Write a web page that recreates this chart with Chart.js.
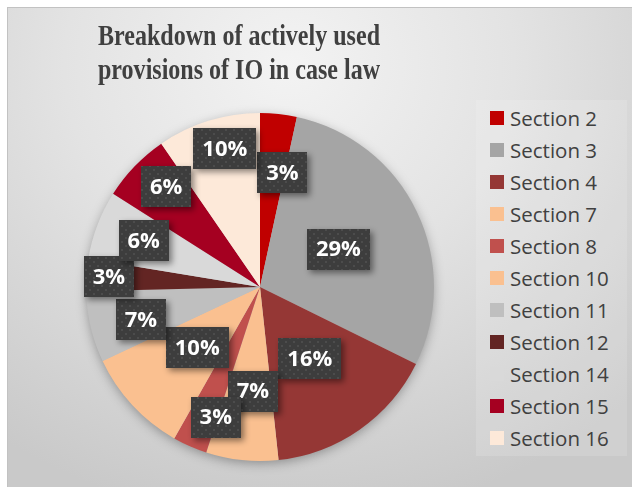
<!DOCTYPE html>
<html>
<head>
<meta charset="utf-8">
<script src="https://cdn.jsdelivr.net/npm/chart.js@4.4.1/dist/chart.umd.min.js"></script>
<style>
html, body { margin: 0; padding: 0; width: 632px; height: 487px; overflow: hidden; background: #fff; }
#frame {
    position: absolute; left: 7px; top: 7px; width: 625px; height: 480px;
    border-left: 1px solid #c2c2c2; border-top: 1px solid #c2c2c2;
    background: radial-gradient(ellipse 80% 95% at 45% 12%, #f3f3f3 0%, #e3e3e3 45%, #c9c9c9 100%);
}
#legendBox { position: absolute; left: 476px; top: 100px; width: 151px; height: 356px; background: rgba(255,255,255,0.14); }
#legend { position: absolute; left: 490px; top: 102px; font-family: 'Open Sans', sans-serif; font-size: 20.5px; color: #404040; }
.item { height: 32px; display: flex; align-items: center; white-space: nowrap; }
.sw { width: 14px; height: 14px; margin-right: 6px; flex: none; }
canvas { position: absolute; left: 0; top: 0; }
</style>
</head>
<body>
<div id="frame"></div>
<div id="legendBox"></div>
<div id="legend"></div>
<canvas id="pie-chart" width="632" height="487"></canvas>
<script>
const titleLines = ['Breakdown of actively used', 'provisions of IO in case law'];
const sections = ['Section 2', 'Section 3', 'Section 4', 'Section 7', 'Section 8', 'Section 10',
    'Section 11', 'Section 12', 'Section 14', 'Section 15', 'Section 16'];
const shares = [3.4, 28.9, 16.0, 6.7, 3.2, 9.8, 6.6, 3.0, 6.4, 6.4, 9.6];
const sliceColors = ['#c00000', '#a5a5a5', '#953735', '#fac090', '#c0504d', '#fac090',
    '#bfbfbf', '#632523', '#d9d9d9', '#a50021', '#fde9d9'];

// where each label box sits along its slice (fraction of radius, angle nudge in degrees)
const labelRadius = [0.67, 0.5, 0.5, 0.6, 0.79, 0.5, 0.71, 0.87, 0.72, 0.79, 0.82];
const labelNudge = [5, 0, 0, -2, -5, -1, -2, 0, 1, 3, 3];

function dotPattern(ctx) {
    const c = document.createElement('canvas');
    c.width = 8; c.height = 8;
    const p = c.getContext('2d');
    p.fillStyle = '#3d3d3d';
    p.fillRect(0, 0, 8, 8);
    p.fillStyle = '#4c4c4c';
    p.fillRect(1, 1, 2, 2);
    p.fillRect(5, 5, 2, 2);
    return ctx.createPattern(c, 'repeat');
}

const titlePlugin = {
    id: 'titleText',
    afterDraw(chart) {
        const ctx = chart.ctx;
        ctx.save();
        ctx.fillStyle = '#404040';
        ctx.font = 'bold 29px "Liberation Serif", "Times New Roman", serif';
        ctx.textAlign = 'center';
        ctx.textBaseline = 'alphabetic';
        const baselines = [45, 78.5];
        titleLines.forEach((line, i) => {
            const w = ctx.measureText(line).width;
            const sx = Math.min(1, 282 / w);
            ctx.save();
            ctx.translate(239, baselines[i]);
            ctx.scale(sx, 1);
            ctx.fillText(line, 0, 0);
            ctx.restore();
        });
        ctx.restore();
    }
};

const pieShadow = {
    id: 'pieShadow',
    beforeDatasetsDraw(chart) {
        const arc = chart.getDatasetMeta(0).data[0];
        if (!arc) return;
        const ctx = chart.ctx;
        ctx.save();
        ctx.shadowColor = 'rgba(0,0,0,0.35)';
        ctx.shadowBlur = 12;
        ctx.shadowOffsetY = 3;
        ctx.fillStyle = '#bbbbbb';
        ctx.beginPath();
        ctx.arc(arc.x, arc.y, arc.outerRadius - 1, 0, Math.PI * 2);
        ctx.fill();
        ctx.restore();
    }
};

const boxLabels = {
    id: 'boxLabels',
    afterDatasetsDraw(chart) {
        const ctx = chart.ctx;
        const meta = chart.getDatasetMeta(0);
        const values = chart.data.datasets[0].data;
        const total = values.reduce((a, b) => a + b, 0);
        const pattern = dotPattern(ctx);
        ctx.save();
        ctx.font = 'bold 22px "Open Sans", sans-serif';
        ctx.textAlign = 'center';
        ctx.textBaseline = 'middle';
        meta.data.forEach((arc, i) => {
            const mid = (arc.startAngle + arc.endAngle) / 2 + labelNudge[i] * Math.PI / 180;
            const r = arc.outerRadius * labelRadius[i];
            const x = arc.x + Math.cos(mid) * r;
            const y = arc.y + Math.sin(mid) * r;
            const text = Math.round(values[i] / total * 100) + '%';
            const w = ctx.measureText(text).width + 18;
            const h = 41;
            ctx.save();
            ctx.shadowColor = 'rgba(0,0,0,0.45)';
            ctx.shadowBlur = 6;
            ctx.shadowOffsetX = 3;
            ctx.shadowOffsetY = 3;
            ctx.fillStyle = pattern;
            ctx.fillRect(Math.round(x - w / 2), Math.round(y - h / 2), Math.round(w), h);
            ctx.restore();
            ctx.fillStyle = '#ffffff';
            ctx.fillText(text, x, y + 1);
        });
        ctx.restore();
    }
};

const ctx = document.getElementById('pie-chart').getContext('2d');
const pieChart = new Chart(ctx, {
    type: 'pie',
    data: {
        labels: sections,
        datasets: [{
            data: shares,
            backgroundColor: sliceColors,
            borderWidth: 0
        }]
    },
    options: {
        responsive: false,
        animation: false,
        layout: { padding: { left: 86, right: 198, top: 113, bottom: 26 } },
        plugins: {
            legend: { display: false },
            title: { display: false },
            tooltip: { enabled: false }
        }
    },
    plugins: [pieShadow, boxLabels, titlePlugin]
});

// html legend built from the chart's own legend items
const legendEl = document.getElementById('legend');
Chart.overrides.pie.plugins.legend.labels.generateLabels(pieChart).forEach(item => {
    const row = document.createElement('div');
    row.className = 'item';
    const sw = document.createElement('span');
    sw.className = 'sw';
    sw.style.background = item.fillStyle;
    const label = document.createElement('span');
    label.textContent = item.text;
    row.appendChild(sw);
    row.appendChild(label);
    legendEl.appendChild(row);
});
</script>
</body>
</html>
